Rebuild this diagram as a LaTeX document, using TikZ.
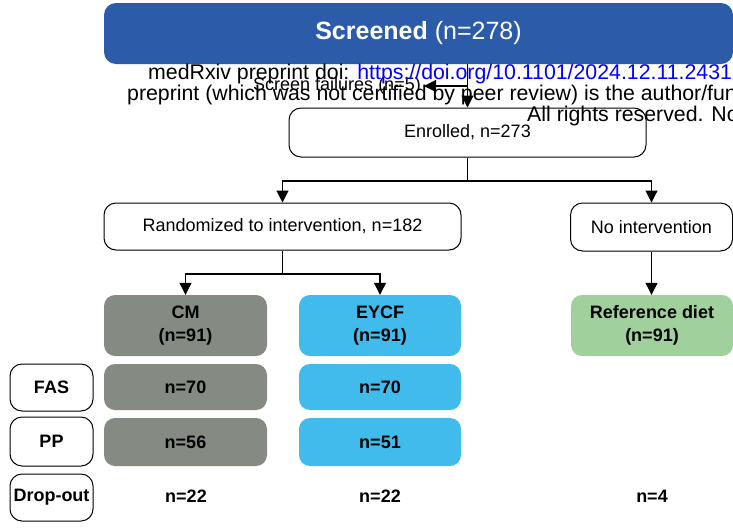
\documentclass[tikz,border=0pt]{standalone}
\usepackage{fontspec}
\setmainfont{Liberation Sans}
\usetikzlibrary{arrows.meta,calc}
\definecolor{scrblue}{HTML}{2B5BA9}
\definecolor{cmgray}{HTML}{858B83}
\definecolor{eycfblue}{HTML}{41BBEC}
\definecolor{refgreen}{HTML}{A0D19C}
\definecolor{urlblue}{HTML}{0000FF}
\tikzset{
  lbl/.style={font=\fontsize{18pt}{23pt}\selectfont, align=center, inner sep=0pt},
  whitebox/.style={lbl, draw=black, line width=1pt, fill=white, rounded corners=12pt},
  colbox/.style={lbl, font=\fontsize{18pt}{23pt}\selectfont\bfseries, rounded corners=11pt},
  arr/.style={line width=1.1pt, -{Triangle[width=12pt,length=12pt]}},
  conn/.style={line width=1.1pt},
  wm/.style={font=\fontsize{21.3pt}{22pt}\selectfont, inner sep=0pt, anchor=base west}
}
\begin{document}
\begin{tikzpicture}[x=1pt,y=-1pt]
\useasboundingbox (0,0) rectangle (733,528);
\clip (0,0) rectangle (733,528);
% top box
\node[lbl, fill=scrblue, text=white, rounded corners=12pt, minimum width=629pt, minimum height=61pt,
  font=\fontsize{25pt}{28pt}\selectfont] (screened) at (418.5,33.5) {\textbf{Screened} (n=278)};
\node[whitebox, minimum width=357pt, minimum height=49pt] (enrolled) at (467.5,132.5) {Enrolled, n=273};
\node[lbl, inner sep=3pt, anchor=east] (fail) at (424,86) {Screen failures (n=5)};
\node[whitebox, minimum width=357pt, minimum height=47pt] (rand) at (282.5,226.5) {Randomized to intervention, n=182};
\node[whitebox, minimum width=162pt, minimum height=48pt] (noint) at (651.5,227) {No intervention};
% arms
\node[colbox, fill=cmgray, minimum width=163pt, minimum height=61pt] (cm) at (185.5,325.5) {CM\\(n=91)};
\node[colbox, fill=eycfblue, minimum width=162pt, minimum height=61pt] (eycf) at (380,325.5) {EYCF\\(n=91)};
\node[colbox, fill=refgreen, minimum width=162pt, minimum height=61pt] (ref) at (652,325.5) {Reference diet\\(n=91)};
% row labels
\node[whitebox, font=\fontsize{18pt}{23pt}\selectfont\bfseries, minimum width=83pt, minimum height=47pt] (fas) at (51.5,387.5) {FAS};
\node[whitebox, font=\fontsize{18pt}{23pt}\selectfont\bfseries, minimum width=83pt, minimum height=49pt] (pp) at (51.5,441.5) {PP};
\node[whitebox, font=\fontsize{18pt}{23pt}\selectfont\bfseries, minimum width=83pt, minimum height=47pt] (drop) at (51.5,497.5) {Drop-out};
% rows
\node[colbox, fill=cmgray, minimum width=163pt, minimum height=46pt] (cmfas) at (185.5,387) {n=70};
\node[colbox, fill=eycfblue, minimum width=162pt, minimum height=46pt] (eycffas) at (380,387) {n=70};
\node[colbox, fill=cmgray, minimum width=163pt, minimum height=48pt] (cmpp) at (185.5,442) {n=56};
\node[colbox, fill=eycfblue, minimum width=162pt, minimum height=48pt] (eycfpp) at (380,442) {n=51};
\node[lbl, font=\fontsize{18pt}{23pt}\selectfont\bfseries] (cmdrop) at (186,496.5) {n=22};
\node[lbl, font=\fontsize{18pt}{23pt}\selectfont\bfseries] (eycfdrop) at (380,496.5) {n=22};
\node[lbl, font=\fontsize{18pt}{23pt}\selectfont\bfseries] (refdrop) at (652,496.5) {n=4};
% connectors
\draw[arr] (enrolled.north |- screened.south) -- (enrolled.north);
\draw[arr] (enrolled.north |- fail.east) -- (fail.east);
\coordinate (j1) at (467.5,181);
\draw[conn] (enrolled.south) -- (j1);
\draw[arr] (j1) -| (rand.north);
\draw[arr] (j1) -| (noint.north);
\coordinate (j2) at (282.5,274);
\draw[conn] (rand.south) -- (j2);
\draw[arr] (j2) -| (cm.north);
\draw[arr] (j2) -| (eycf.north);
\draw[arr] (noint.south) -- (noint.south |- ref.north);
% watermark overlay
\node[wm] (wm1) at (148,79) {medRxiv preprint doi: \textcolor{urlblue}{https://doi.org/10.1101/2024.12.11.2431}};
\node[wm] (wm2) at (127,100) {preprint (which was not certified by peer review) is the author/fun};
\node[wm] (wm3) at (527,121) {All rights reserved. No};
\end{tikzpicture}
\end{document}
